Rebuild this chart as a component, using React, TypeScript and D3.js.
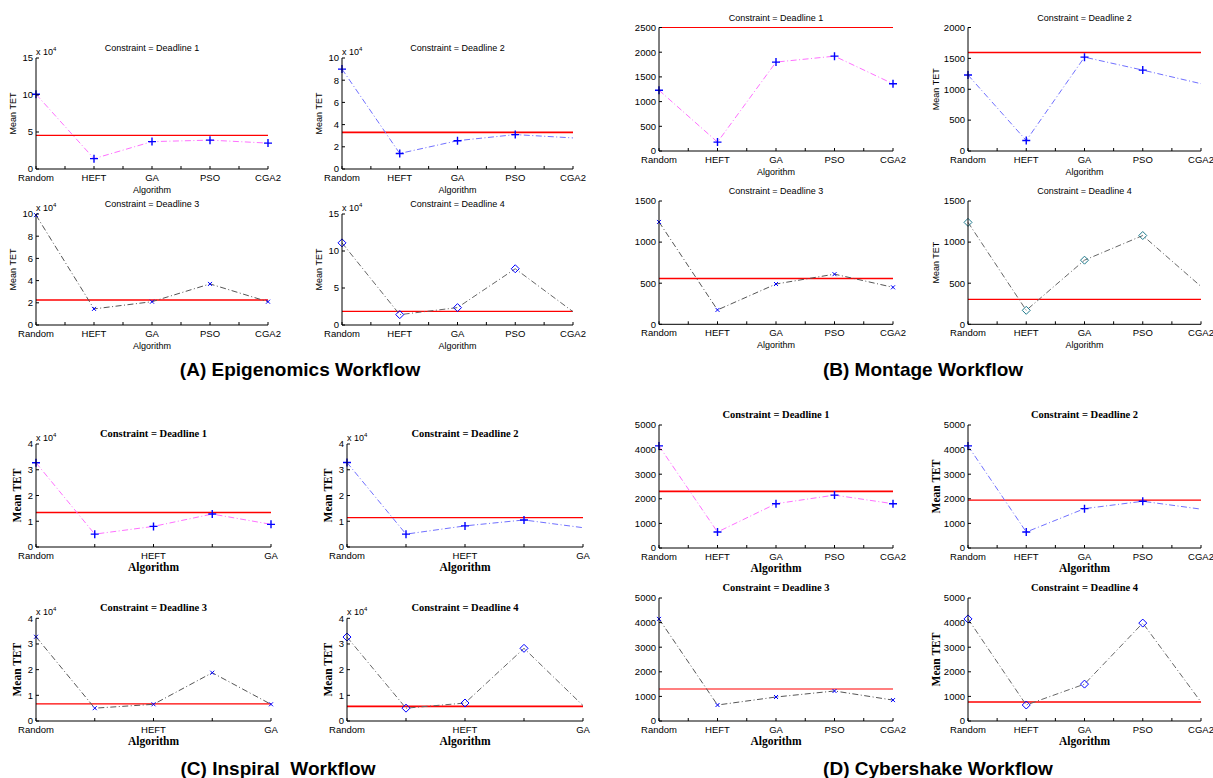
import React from "react";
import * as d3 from "d3";

const algorithms = ["Random", "HEFT", "GA", "PSO", "CGA2"];
const inspiralTicks = ["Random", "", "HEFT", "", "GA"];
const constraints = ["Deadline 1", "Deadline 2", "Deadline 3", "Deadline 4"];

// Mean TET per deadline (epigenomics and inspiral in units of 10^4)
const epigenomicsTET = [
  [10.1, 1.4, 3.7, 3.9, 3.5],
  [9.0, 1.4, 2.55, 3.1, 2.8],
  [9.9, 1.45, 2.1, 3.7, 2.1],
  [11.1, 1.4, 2.35, 7.6, 1.8],
];
const epigenomicsDeadline = [4.55, 3.3, 2.25, 1.85];

const montageTET = [
  [1230, 180, 1800, 1920, 1360],
  [1230, 170, 1520, 1310, 1090],
  [1245, 175, 490, 610, 450],
  [1240, 170, 780, 1080, 460],
];
const montageDeadline = [2500, 1595, 558, 303];

const inspiralTET = [
  [3.27, 0.5, 0.8, 1.28, 0.88],
  [3.28, 0.5, 0.82, 1.05, 0.75],
  [3.28, 0.5, 0.65, 1.88, 0.65],
  [3.27, 0.5, 0.7, 2.83, 0.6],
];
const inspiralDeadline = [1.34, 1.14, 0.67, 0.57];

const cybershakeTET = [
  [4150, 650, 1800, 2150, 1800],
  [4150, 650, 1600, 1900, 1580],
  [4150, 650, 975, 1220, 850],
  [4150, 650, 1500, 3980, 770],
];
const cybershakeDeadline = [2300, 1950, 1300, 770];

const SANS = "'Liberation Sans', Arial, sans-serif";
const SERIF = "'Liberation Serif', 'Times New Roman', serif";

// style per deadline index
const lineColors = ["#ff70ff", "#7070ff", "#555555", "#666666"];
const markerKinds = ["plus", "plus", "cross", "diamond"];

function Marker({ kind, cx, cy, color }) {
  if (kind === "plus")
    return <path d={`M${cx - 4},${cy}H${cx + 4}M${cx},${cy - 4}V${cy + 4}`} stroke={color} strokeWidth={1.4} />;
  if (kind === "cross")
    return <path d={`M${cx - 2},${cy - 2}L${cx + 2},${cy + 2}M${cx - 2},${cy + 2}L${cx + 2},${cy - 2}`} stroke={color} strokeWidth={1} />;
  return <path d={`M${cx},${cy - 4}L${cx + 4},${cy}L${cx},${cy + 4}L${cx - 4},${cy}Z`} fill="none" stroke={color} strokeWidth={1} />;
}

function Panel({ p }) {
  const x = d3.scaleLinear().domain([0, 4]).range([p.x0, p.x1]);
  const y = d3.scaleLinear().domain([0, p.yMax]).range([p.y1, p.y0]);
  const line = d3.line<number>().x((d, i) => x(i)).y((d) => y(d));
  const yTicks = d3.range(0, p.yMax + p.yStep / 2, p.yStep);
  const xTicks = p.tickLabels === inspiralTicks ? d3.range(0, 5) : d3.range(0, 4.01, 0.5);
  const cx = (p.x0 + p.x1) / 2;
  const cy = (p.y0 + p.y1) / 2;
  const titleFont = p.serif
    ? { fontFamily: SERIF, fontWeight: "bold", fontSize: 10.5 }
    : { fontFamily: SANS, fontSize: 9 };
  const labelFont = p.serif
    ? { fontFamily: SERIF, fontWeight: "bold", fontSize: 11.5 }
    : { fontFamily: SANS, fontSize: 9 };
  const kind = markerKinds[p.k];
  const pts = p.lastMarker ? p.values : p.values.slice(0, 4);
  const wide = p.yMax >= 1000;
  const labelOffset = wide ? 32 : p.serif ? 19 : 23;
  return (
    <g>
      <text x={cx} y={p.y0 - 7} textAnchor="middle" {...titleFont}>
        {"Constraint = " + constraints[p.k]}
      </text>
      <line x1={p.x0} x2={p.x1} y1={y(p.deadline)} y2={y(p.deadline)} stroke="#ff0000" strokeWidth={p.dw} />
      <path d={line(p.values)} fill="none" stroke={lineColors[p.k]} strokeWidth={1} strokeDasharray="6,2.5,1,2.5" />
      {pts.map((v, i) => (
        <Marker key={i} kind={kind} cx={x(i)} cy={y(v)} color={p.markerColor || "#0000ff"} />
      ))}
      <line x1={p.x0} x2={p.x0} y1={p.y0} y2={p.y1} stroke="#000" />
      <line x1={p.x0} x2={p.x1} y1={p.y1} y2={p.y1} stroke="#000" />
      {yTicks.map((t) => (
        <g key={"y" + t}>
          <line x1={p.x0} x2={p.x0 + 3} y1={y(t)} y2={y(t)} stroke="#000" />
          <text x={p.x0 - 3} y={y(t)} dy="0.35em" textAnchor="end" fontFamily={SANS} fontSize={9.5}>
            {t}
          </text>
        </g>
      ))}
      {xTicks.map((t) => (
        <line key={"x" + t} x1={x(t)} x2={x(t)} y1={p.y1} y2={p.y1 - 3} stroke="#000" />
      ))}
      {p.tickLabels.map((s, i) => (
        <text key={"l" + i} x={x(i)} y={p.y1 + 12} textAnchor="middle" fontFamily={SANS} fontSize={9.5}>
          {s}
        </text>
      ))}
      <text x={cx} y={p.y1 + 24} textAnchor="middle" {...labelFont}>
        Algorithm
      </text>
      {p.yLabel && (
        <text
          transform={`translate(${p.x0 - labelOffset},${cy}) rotate(-90)`}
          textAnchor="middle"
          dy="0.35em"
          {...labelFont}
        >
          Mean TET
        </text>
      )}
      {p.exp && (
        <text x={p.x0} y={p.y0 - 3} fontFamily={SANS} fontSize={9}>
          x 10<tspan dy={-4} fontSize={6}>4</tspan>
        </text>
      )}
    </g>
  );
}

const colA = [[36, 268], [342, 573]];
const colC = [[36, 271], [347, 583]];
const colB = [[659, 893], [968, 1201]];

function buildPanels() {
  const out = [];
  const rowsA = [[58, 169], [214, 325]];
  const rowsB = [[27.5, 151], [201, 324.3]];
  const rowsC = [[444, 547], [618.3, 721]];
  const rowsD = [[425, 548], [598, 721]];
  const yMaxA = [15, 10, 10, 15];
  const yStepA = [5, 2, 2, 5];
  const yMaxB = [2500, 2000, 1500, 1500];
  const dwA = [1.2, 1.6, 1.6, 1.2];
  const dwB = [1.2, 1.6, 1.6, 1.2];
  const dwC = [1.6, 1.2, 1.2, 1.6];
  const dwD = [1.6, 1.2, 1.2, 1.6];
  for (let k = 0; k < 4; k++) {
    const c = k % 2;
    const r = Math.floor(k / 2);
    out.push({
      k, x0: colA[c][0], x1: colA[c][1], y0: rowsA[r][0], y1: rowsA[r][1],
      values: epigenomicsTET[k], deadline: epigenomicsDeadline[k],
      yMax: yMaxA[k], yStep: yStepA[k], exp: true, serif: false, yLabel: true,
      tickLabels: algorithms, lastMarker: k === 0 || k === 2, dw: dwA[k],
    });
    out.push({
      k, x0: colB[c][0], x1: colB[c][1], y0: rowsB[r][0], y1: rowsB[r][1],
      values: montageTET[k], deadline: montageDeadline[k],
      yMax: yMaxB[k], yStep: 500, exp: false, serif: false, yLabel: c === 1,
      tickLabels: algorithms, lastMarker: k === 0 || k === 2, dw: dwB[k],
      markerColor: k === 3 ? "#1f7a8c" : undefined,
    });
    out.push({
      k, x0: colC[c][0], x1: colC[c][1], y0: rowsC[r][0], y1: rowsC[r][1],
      values: inspiralTET[k], deadline: inspiralDeadline[k],
      yMax: 4, yStep: 1, exp: true, serif: true, yLabel: true,
      tickLabels: inspiralTicks, lastMarker: k === 0 || k === 2, dw: dwC[k],
    });
    out.push({
      k, x0: colB[c][0], x1: colB[c][1], y0: rowsD[r][0], y1: rowsD[r][1],
      values: cybershakeTET[k], deadline: cybershakeDeadline[k],
      yMax: 5000, yStep: 1000, exp: false, serif: true, yLabel: c === 1,
      tickLabels: algorithms, lastMarker: k === 0 || k === 2, dw: dwD[k],
    });
  }
  return out;
}

const workflowTitles = [
  { text: "(A) Epigenomics Workflow", x: 300, y: 376 },
  { text: "(B) Montage Workflow", x: 923, y: 376 },
  { text: "(C) Inspiral  Workflow", x: 278, y: 775 },
  { text: "(D) Cybershake Workflow", x: 938, y: 775 },
];

export default function App() {
  const panels = buildPanels();
  return (
    <svg
      width={1213}
      height={778}
      style={{ position: "absolute", left: 0, top: 0, background: "#fff" }}
    >
      <rect width={1213} height={778} fill="#fff" />
      {panels.map((p, i) => (
        <Panel key={i} p={p} />
      ))}
      {workflowTitles.map((t) => (
        <text key={t.text} x={t.x} y={t.y} textAnchor="middle" fontFamily={SANS} fontWeight="bold" fontSize={19} style={{ whiteSpace: "pre" }}>
          {t.text}
        </text>
      ))}
    </svg>
  );
}
